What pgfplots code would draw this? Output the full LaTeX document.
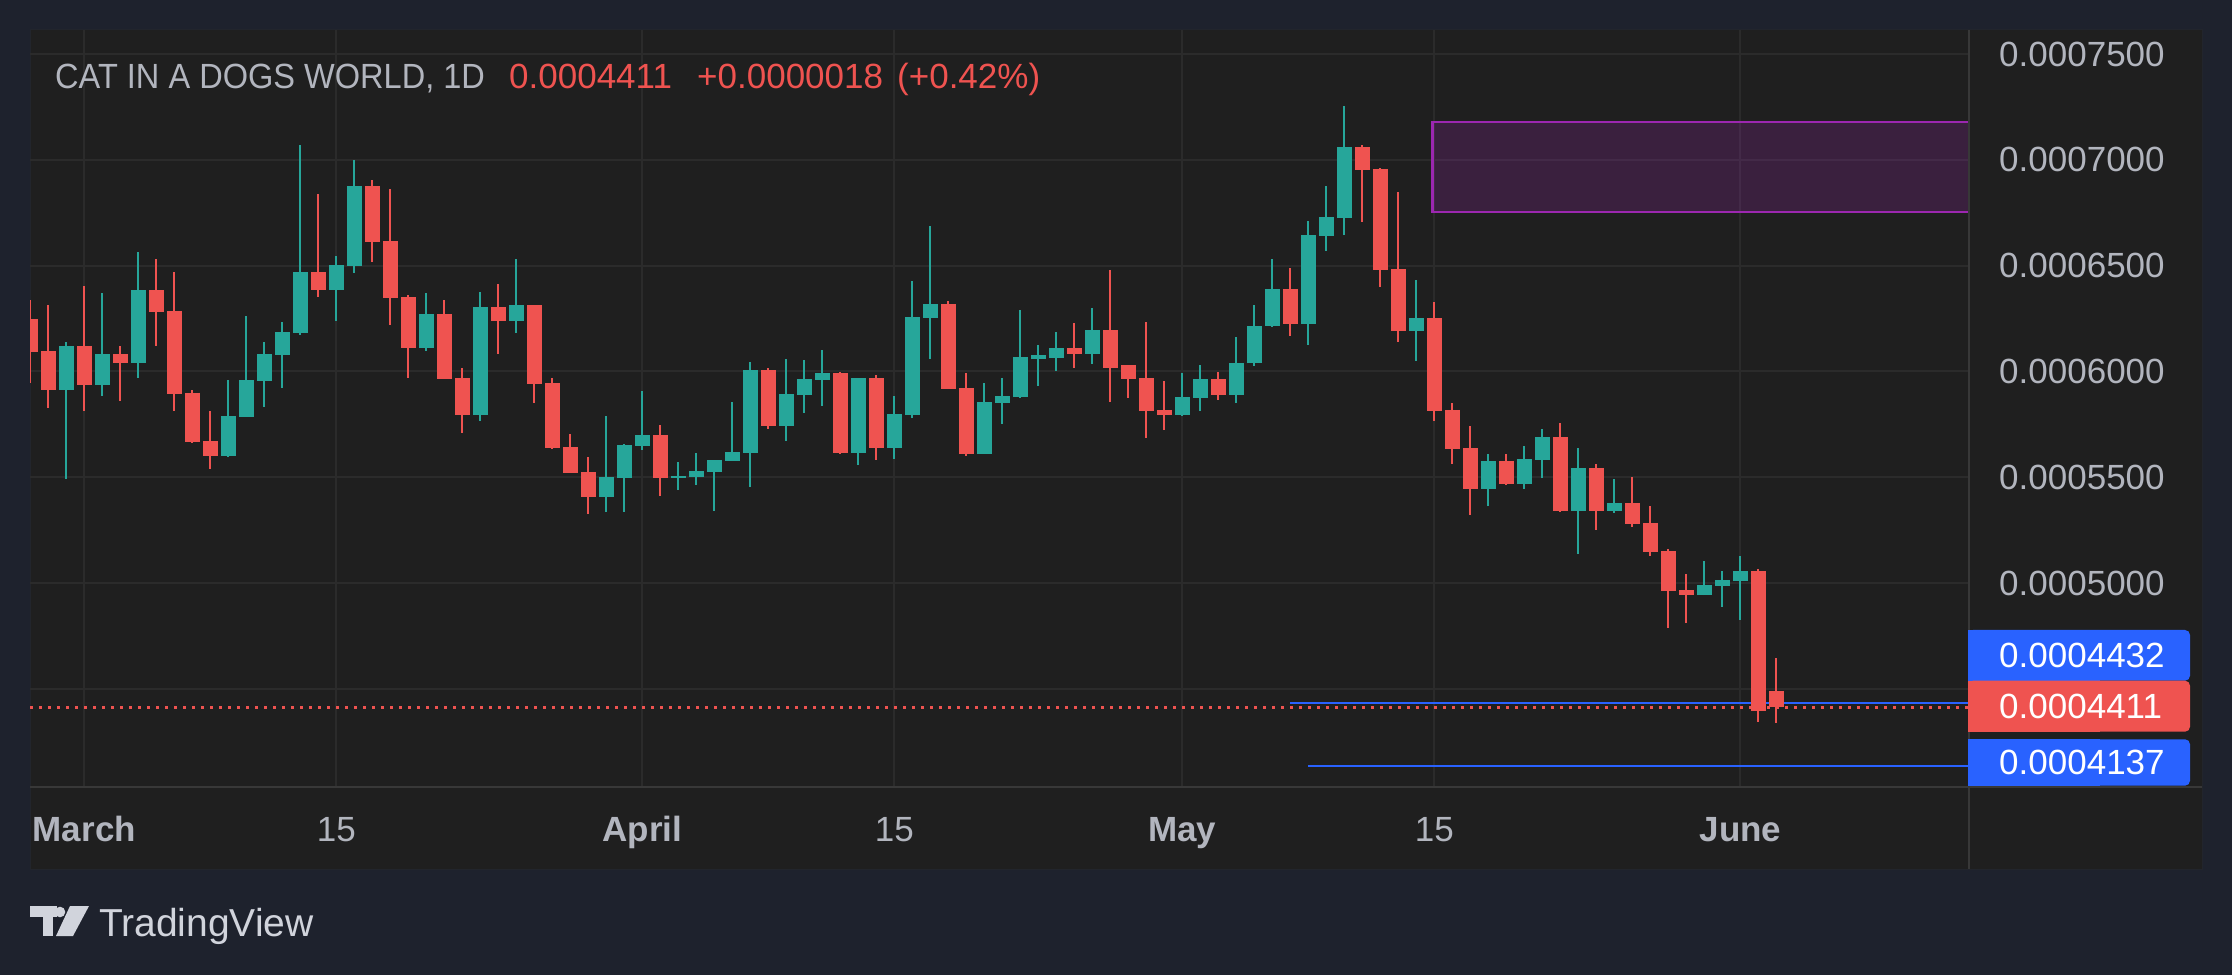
\documentclass[border=0pt]{standalone}
\usepackage{fontspec}
\setmainfont{Liberation Sans}
\usepackage{graphicx}
\usepackage{pgfplots}
\usepackage{pgfplotstable}
\pgfplotsset{compat=1.18}
\definecolor{outerbg}{HTML}{1E222D}
\definecolor{panelbg}{HTML}{1F1F1F}
\definecolor{gridc}{HTML}{2B2B2B}
\definecolor{sepc}{HTML}{383838}
\definecolor{upc}{HTML}{26A69A}
\definecolor{downc}{HTML}{EF5350}
\definecolor{labc}{HTML}{B2B5BE}
\definecolor{tagblue}{HTML}{2962FF}
\definecolor{zonec}{HTML}{9C27B0}
\definecolor{logoc}{HTML}{D1D4DC}

\pgfplotstableread{
i O H L C
2 5914 6139 5494 6121
4 5938 6371 5886 6083
6 6042 6565 5971 6385
11 5602 5961 5597 5791
12 5786 6264 5786 5961
13 5957 6139 5834 6083
14 6080 6234 5924 6187
15 6184 7070 6174 6470
17 6387 6546 6240 6503
18 6500 6999 6467 6877
22 6113 6371 6098 6272
25 5796 6376 5768 6305
27 6240 6532 6184 6314
32 5408 5790 5338 5501
33 5498 5658 5338 5653
34 5650 5908 5631 5700
36 5498 5572 5442 5506
37 5503 5615 5465 5530
38 5527 5582 5343 5582
39 5579 5856 5579 5620
40 5617 6045 5456 6007
42 5744 6059 5673 5894
43 5891 6054 5805 5965
44 5962 6102 5839 5993
46 5617 5969 5560 5969
48 5638 5884 5588 5799
49 5794 6428 5780 6258
50 6253 6688 6059 6319
53 5612 5946 5612 5856
54 5853 5969 5753 5884
55 5879 6291 5874 6069
56 6057 6125 5933 6079
57 6066 6187 6003 6111
59 6084 6300 6037 6196
64 5796 5993 5790 5879
65 5876 6031 5815 5965
67 5890 6163 5853 6040
68 6038 6314 6028 6215
69 6217 6532 6212 6390
71 6226 6711 6127 6645
72 6642 6877 6571 6730
73 6727 7255 6647 7061
77 6193 6432 6051 6253
81 5445 5610 5364 5577
83 5468 5648 5445 5586
84 5582 5728 5497 5690
86 5341 5638 5138 5544
88 5341 5492 5332 5379
93 4943 5104 4943 4991
94 4987 5058 4887 5015
95 5010 5128 4826 5058
}\upT

\pgfplotstableread{
i O H L C
0 6248 6338 5944 6094
1 6097 6314 5829 5914
3 6121 6404 5815 5938
5 6083 6121 5862 6042
7 6385 6532 6122 6283
8 6286 6470 5815 5895
9 5900 5914 5663 5668
10 5672 5815 5541 5602
16 6470 6839 6354 6387
19 6877 6905 6519 6614
20 6617 6862 6221 6349
21 6352 6362 5971 6113
23 6272 6338 5966 5966
24 5969 6017 5711 5796
26 6305 6414 6084 6240
28 6314 6314 5853 5942
29 5946 5969 5636 5640
30 5643 5705 5522 5522
31 5525 5596 5328 5408
35 5700 5747 5413 5498
41 6007 6017 5730 5744
45 5993 5998 5612 5617
47 5969 5984 5583 5640
51 6319 6333 5917 5917
52 5922 5993 5602 5612
58 6111 6229 6017 6084
60 6196 6480 5857 6017
61 6031 6031 5876 5966
62 5969 6234 5687 5815
63 5818 5955 5725 5796
66 5965 5998 5867 5890
70 6390 6489 6169 6226
74 7061 7070 6708 6954
75 6957 6962 6401 6481
76 6485 6848 6141 6193
78 6253 6328 5768 5815
79 5818 5851 5564 5635
80 5638 5742 5322 5445
82 5577 5610 5463 5468
85 5690 5757 5336 5341
87 5544 5563 5251 5341
89 5379 5502 5265 5279
90 5284 5364 5128 5147
91 5152 5161 4788 4963
92 4967 5043 4811 4943
96 5058 5067 4344 4396
97 4490 4646 4339 4414
}\dnT

\newcommand{\lab}{\fontsize{35}{42}\selectfont}

\begin{document}
\begin{tikzpicture}
% page background and panel
\fill[outerbg] (0pt,0pt) rectangle (2232pt,975pt);
\fill[panelbg] (30pt,106pt) rectangle (2202pt,945pt);
\draw[color=outerbg!70!gridc, line width=1pt] (30pt,106pt) rectangle (2202pt,945pt);

\begin{axis}[
  at={(30pt,188pt)}, anchor=south west,
  width=1939pt, height=757pt, scale only axis,
  xmin=-0.02, xmax=107.7, ymin=4036.3, ymax=7613.9,
  enlargelimits=false,
  axis line style={draw=none},
  major tick length=0pt,
  xtick={3,17,34,48,64,78,95},
  xticklabels={\textbf{March},15,\textbf{April},15,\textbf{May},15,\textbf{June}},
  ytick={4500,5000,5500,6000,6500,7000,7500},
  yticklabels={{},0.0005000,0.0005500,0.0006000,0.0006500,0.0007000,0.0007500},
  ytick pos=right, yticklabel pos=right,
  xmajorgrids, ymajorgrids,
  grid style={color=gridc, line width=2pt},
  xticklabel style={anchor=base, inner sep=0pt, yshift=-54pt, text=labc, font=\lab},
  yticklabel style={anchor=west, inner sep=0pt, xshift=30pt, text=labc, font=\lab},
]
% zone
\addplot[draw=zonec, line width=2.7pt, fill=zonec, fill opacity=0.22]
  coordinates {(77.9,6754) (77.9,7179) (109,7179) (109,6754)} -- cycle;
% price lines
\addplot[color=tagblue, line width=2pt] coordinates {(70,4432) (108,4432)};
\addplot[color=tagblue, line width=2pt] coordinates {(71,4137) (108,4137)};
\addplot[color=downc, line width=2.5pt, dash pattern=on 2.5pt off 6.5pt]
  coordinates {(-0.02,4411) (108,4411)};
% wicks
\addplot[draw=upc, line width=2pt, quiver={u=0, v=\thisrow{H}-\thisrow{L}}]
  table[x=i, y=L] {\upT};
\addplot[draw=downc, line width=2pt, quiver={u=0, v=\thisrow{H}-\thisrow{L}}]
  table[x=i, y=L] {\dnT};
% bodies
\addplot[draw=upc, line width=15pt, quiver={u=0, v=\thisrow{C}-\thisrow{O}}]
  table[x=i, y=O] {\upT};
\addplot[draw=downc, line width=15pt, quiver={u=0, v=\thisrow{C}-\thisrow{O}}]
  table[x=i, y=O] {\dnT};
\end{axis}

% separators
\draw[sepc, line width=2pt] (1969pt,106pt) -- (1969pt,945pt);
\draw[sepc, line width=2pt] (30pt,188pt) -- (2202pt,188pt);

% title
\node[anchor=base west, inner sep=0pt, text=labc, font=\lab] at (55pt,886.7pt)
  {\scalebox{0.93}[1]{CAT IN A DOGS WORLD, 1D}};
\node[anchor=base west, inner sep=0pt, text=downc, font=\lab] at (509pt,886.7pt) {0.0004411};
\node[anchor=base west, inner sep=0pt, text=downc, font=\lab] at (697pt,886.7pt) {+0.0000018};
\node[anchor=base west, inner sep=0pt, text=downc, font=\lab] at (897pt,886.7pt) {(+0.42\%)};

% price tags
\fill[tagblue, rounded corners=5pt] (1968pt,294.3pt) rectangle (2190pt,345pt);
\fill[tagblue] (1968pt,294.3pt) rectangle (2100pt,345pt);
\node[anchor=west, inner sep=0pt, text=white, font=\lab] at (1999pt,319.7pt) {0.0004432};
\fill[downc, rounded corners=5pt] (1968pt,243.3pt) rectangle (2190pt,294.3pt);
\fill[downc] (1968pt,243.3pt) rectangle (2100pt,294.3pt);
\node[anchor=west, inner sep=0pt, text=white, font=\lab] at (1999pt,268.8pt) {0.0004411};
\fill[tagblue, rounded corners=5pt] (1968pt,189.3pt) rectangle (2190pt,235.7pt);
\fill[tagblue] (1968pt,189.3pt) rectangle (2100pt,235.7pt);
\node[anchor=west, inner sep=0pt, text=white, font=\lab] at (1999pt,212.5pt) {0.0004137};

% TradingView logo
\fill[logoc] (30pt,69pt) rectangle (57pt,58pt);
\fill[logoc] (43pt,58pt) rectangle (53pt,39pt);
\fill[logoc] (60pt,63pt) circle (5.3pt);
\fill[logoc] (70pt,69pt) -- (89pt,69pt) -- (73pt,39pt) -- (56pt,39pt) -- cycle;
\node[anchor=base west, inner sep=0pt, text=logoc, font=\fontsize{39}{46}\selectfont] at (99pt,38.3pt) {TradingView};
\end{tikzpicture}
\end{document}
